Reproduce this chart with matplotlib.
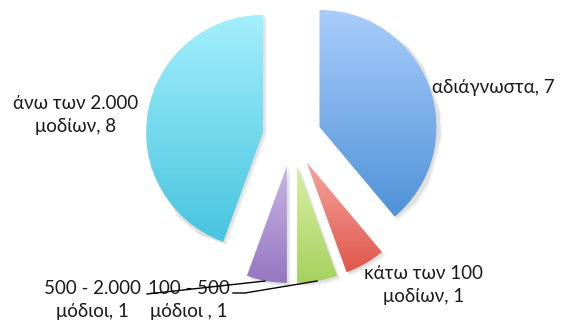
import matplotlib
matplotlib.use("Agg")
import matplotlib.pyplot as plt
import numpy as np
from matplotlib.colors import LinearSegmentedColormap

# slices, clockwise from the top
labels = ["αδιάγνωστα, 7", "κάτω των 100\nμοδίων, 1", "100 - 500\nμόδιοι , 1",
          "500 - 2.000\nμόδιοι, 1", "άνω των 2.000\nμοδίων, 8"]
values = [7, 1, 1, 1, 8]
top_colors = ["#A9CDFB", "#F6A6A0", "#D8F0A3", "#C9B6E5", "#A3EFFC"]
bottom_colors = ["#4F92D8", "#DF564C", "#A6D15E", "#9476C0", "#47C4DF"]

W, H = 571, 326
fig = plt.figure(figsize=(W / 100, H / 100), dpi=100)
ax = fig.add_axes([0, 0, 1, 1])

cx, cy, R = 292, H - 137, 117
wedges, _ = ax.pie(values, explode=[0.25 * R] * 5, radius=R, center=(cx, cy),
                   startangle=90, counterclock=False, frame=True,
                   wedgeprops=dict(linewidth=0))

for w, c0, c1 in zip(wedges, top_colors, bottom_colors):
    verts = w.get_path().vertices
    x0, x1 = verts[:, 0].min(), verts[:, 0].max()
    y0, y1 = verts[:, 1].min(), verts[:, 1].max()
    # soft shadow
    for k, a in [(3.5, 0.05), (2.0, 0.07)]:
        sh = plt.Polygon(verts + np.array([k, -k]), closed=True,
                         facecolor="#000000", alpha=a, lw=0, zorder=0.5)
        ax.add_patch(sh)
    w.set_facecolor("none")
    cmap = LinearSegmentedColormap.from_list("g", [c0, c1])
    grad = np.linspace(0, 1, 256).reshape(-1, 1)
    im = ax.imshow(grad, cmap=cmap, extent=(x0, x1, y0, y1), origin="upper",
                   aspect="auto", zorder=1, interpolation="bilinear")
    im.set_clip_path(w)

ax.set_xlim(0, W)
ax.set_ylim(0, H)
ax.set_aspect("equal")
ax.axis("off")

font = dict(family="Lato", fontsize=13.5, color="#1a1a1a", linespacing=1.45)
ax.text(432, H - 88, labels[0], ha="left", va="center", **font)
ax.text(424, H - 285, labels[1], ha="center", va="center", **font)
ax.text(189, H - 300, labels[2], ha="center", va="center", **font)
ax.text(92, H - 300, labels[3], ha="center", va="center", **font)
ax.text(76, H - 115, labels[4], ha="center", va="center", **font)

# leader lines
ax.plot([147, 265], [H - 294, H - 281], color="black", lw=1, zorder=3)
ax.plot([233, 245, 317], [H - 293, H - 293, H - 281], color="black", lw=1, zorder=3)

fig.savefig("out.png", dpi=100)
